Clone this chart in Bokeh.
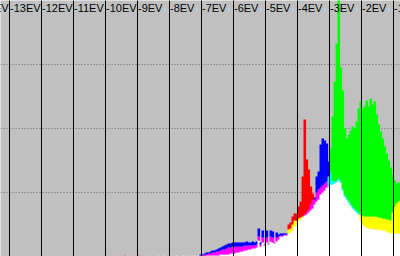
import numpy as np
from bokeh.plotting import figure
from bokeh.models import Range1d, FixedTicker, ColumnDataSource
from bokeh.core.properties import value
from bokeh.embed import file_html
from bokeh.resources import INLINE

# ---- data -------------------------------------------------------------
ev_labels = [-14, -13, -12, -11, -10, -9, -8, -7, -6, -5, -4, -3, -2, -1]
label_text = [f"{v}EV" for v in ev_labels]

# isolated single-count levels at the dark end (EV position, r, g, b)
sparse_ev = [-9.97, -9.375, -8.94, -8.625, -8.344, -8.156, -7.94, -7.75,
             -7.56, -7.41, -7.28, -7.19, -7.09]
sparse_r = [1, 1, 1, 1, 1, 1, 1, 1, 1, 1, 1, 1, 1]
sparse_g = [0, 0, 0, 1, 1, 1, 1, 1, 1, 1, 1, 1, 1]
sparse_b = [1, 1, 1, 1, 1, 1, 1, 1, 1, 1, 1, 1, 1]

# dense histogram, bins of 1/16 EV starting at this EV
dense_start_ev = -7.0 - 1.5 / 32
dense_bin_ev = 1.0 / 16
dense_r = [1, 1, 2, 2, 3, 3, 4, 4, 5, 5, 6, 7, 7, 8, 9, 9, 10, 10, 10, 10,
           10, 10, 11, 11, 11, 11, 11, 11, 12, 20, 12, 19, 12, 19, 13, 20, 19, 14, 19, 20,
           21, 21, 22, 22, 32, 34, 40, 43, 43, 50, 55, 80, 137, 97, 87, 70, 63, 57, 64, 67,
           69, 71, 73, 75, 70, 72, 72, 73, 74, 76, 74, 66, 60, 57, 54, 51, 48, 46, 44, 42,
           42, 41, 40, 40, 40, 40, 40, 40, 40, 39, 39, 38, 38, 37, 37, 36, 44, 50, 53, 55,
           56]
dense_g = [0, 0, 0, 1, 1, 1, 1, 1, 1, 1, 2, 2, 2, 2, 2, 3, 3, 3, 4, 4,
           5, 5, 6, 6, 7, 7, 8, 8, 9, 16, 10, 14, 11, 14, 12, 15, 14, 13, 15, 17,
           20, 20, 21, 21, 27, 28, 32, 36, 36, 38, 39, 40, 41, 42, 44, 46, 48, 52, 55, 57,
           62, 64, 66, 69, 80, 108, 140, 175, 213, 300, 189, 166, 128, 118, 122, 126, 130, 128, 135, 148,
           155, 148, 150, 156, 150, 158, 152, 155, 142, 132, 125, 118, 110, 103, 96, 89, 82, 76, 73, 74,
           72]
dense_b = [2, 2, 3, 4, 4, 5, 6, 6, 7, 8, 9, 10, 11, 12, 13, 13, 14, 14, 14, 14,
           14, 14, 14, 15, 14, 14, 15, 14, 15, 28, 14, 26, 12, 26, 13, 26, 25, 14, 24, 22,
           23, 23, 23, 23, 23, 24, 26, 30, 31, 36, 37, 39, 42, 44, 47, 52, 56, 59, 80, 85,
           112, 118, 116, 113, 95, 84, 76, 75, 76, 78, 76, 68, 62, 59, 56, 53, 50, 48, 46, 44,
           36, 32, 30, 29, 28, 28, 28, 27, 27, 27, 27, 26, 26, 25, 24, 23, 23, 23, 23, 23,
           23]

# ---- build stacked overlap segments ---------------------------------
SINGLE = {"r": "#FF0000", "g": "#00FF00", "b": "#0000FF"}
PAIR = {frozenset("rg"): "#FFFF00", frozenset("gb"): "#00FFFF",
        frozenset("rb"): "#FF00FF"}

L, R, B, T, C = [], [], [], [], []


def add_bin(left, right, r, g, b):
    ch = sorted([("r", r), ("g", g), ("b", b)], key=lambda t: t[1])
    lo, mid, hi = ch[0][1], ch[1][1], ch[2][1]
    segs = [(0, lo, "#FFFFFF"),
            (lo, mid, PAIR[frozenset(ch[1][0] + ch[2][0])]),
            (mid, hi, SINGLE[ch[2][0]])]
    for s0, s1, col in segs:
        if s1 > s0:
            L.append(left); R.append(right); B.append(s0); T.append(s1); C.append(col)


for ev, r, g, b in zip(sparse_ev, sparse_r, sparse_g, sparse_b):
    add_bin(ev - 1 / 64, ev + 1 / 64, r, g, b)

seam = 0.6 / 32  # small overlap so neighbouring bins leave no hairline seams
for i, (r, g, b) in enumerate(zip(dense_r, dense_g, dense_b)):
    left = dense_start_ev + i * dense_bin_ev
    add_bin(left, left + dense_bin_ev + seam, r, g, b)

# ---- figure -----------------------------------------------------------
x0 = -13 - 8.5 / 32
p = figure(width=400, height=256, output_backend="svg", toolbar_location=None,
           x_range=Range1d(x0, x0 + 400 / 32), y_range=Range1d(0, 256),
           x_axis_location=None, y_axis_location=None, min_border=0)
p.background_fill_color = "#C0C0C0"
p.border_fill_color = "#C0C0C0"
p.outline_line_color = None

p.ygrid.ticker = FixedTicker(ticks=[64.5, 128.5, 192.5])
p.ygrid.grid_line_color = "#707070"
p.ygrid.grid_line_dash = "1 2"
p.ygrid.grid_line_width = 1

p.xgrid.ticker = FixedTicker(ticks=ev_labels)
p.xgrid.grid_line_color = "#000000"
p.xgrid.grid_line_width = 1
p.xgrid.level = "overlay"

src = ColumnDataSource(dict(left=L, right=R, bottom=B, top=T, color=C))
p.quad(left="left", right="right", bottom="bottom", top="top", fill_color="color",
       line_color=None, source=src)

p.text(x=ev_labels, y=[256] * len(ev_labels), text=label_text,
       text_font=value("Liberation Sans"), text_font_size="11px",
       text_color="#000000", text_baseline="top", text_align="left",
       x_offset=1, y_offset=1, level="overlay")

open("out.html", "w").write(file_html(p, INLINE))
